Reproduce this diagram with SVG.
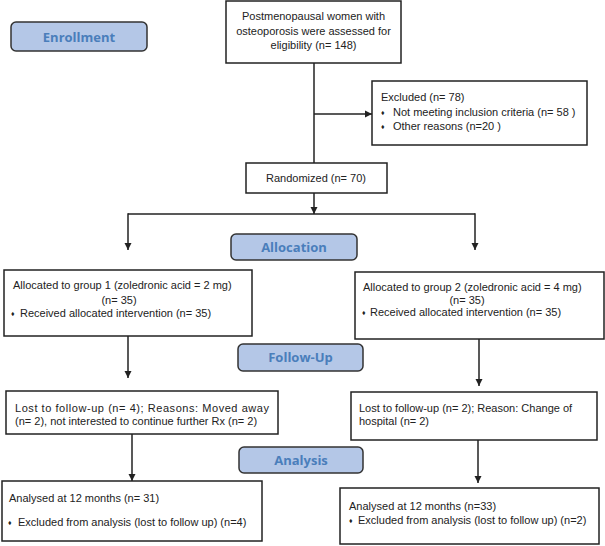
<svg xmlns="http://www.w3.org/2000/svg" width="605" height="546" viewBox="0 0 605 546">
<defs>
<marker id="arr" markerWidth="8" markerHeight="8" refX="7" refY="4" orient="auto" markerUnits="userSpaceOnUse">
<path d="M0,0.5 L7,4 L0,7.5 z" fill="#222"/>
</marker>
<style>
.box{fill:#fff;stroke:#222;stroke-width:1.5}
.hdr{fill:#b4c7e7;stroke:#333;stroke-width:1.5}
.ht{font-family:"Open Sans","Liberation Sans",sans-serif;font-weight:bold;font-size:13px;fill:#4a7ebb;text-anchor:middle}
.t{font-family:"Liberation Sans",Arial,sans-serif;font-size:11px;fill:#222}
.c{text-anchor:middle}
.b{font-size:7px}
.ln{stroke:#222;stroke-width:1.5;fill:none}
</style>
</defs>
<rect width="605" height="546" fill="#fff"/>
<g id="connectors">
<line class="ln" x1="314" y1="63" x2="314" y2="163"/>
<line class="ln" x1="314" y1="114" x2="372" y2="114" marker-end="url(#arr)"/>
<line class="ln" x1="314" y1="193" x2="314" y2="214" marker-end="url(#arr)"/>
<line class="ln" x1="128" y1="214" x2="475" y2="214"/>
<line class="ln" x1="128" y1="213.25" x2="128" y2="250" marker-end="url(#arr)"/>
<line class="ln" x1="475" y1="213.25" x2="475" y2="250" marker-end="url(#arr)"/>
<line class="ln" x1="128" y1="336" x2="128" y2="378" marker-end="url(#arr)"/>
<line class="ln" x1="479" y1="339" x2="479" y2="386" marker-end="url(#arr)"/>
<line class="ln" x1="132" y1="434" x2="132" y2="481" marker-end="url(#arr)"/>
<line class="ln" x1="478" y1="440" x2="478" y2="483" marker-end="url(#arr)"/>
</g>
<g id="enrollment">
<rect class="hdr" x="11" y="22" width="136" height="29" rx="5"/>
<text class="ht" x="79" y="41.5">Enrollment</text>
</g>
<g id="allocation">
<rect class="hdr" x="231" y="234" width="126" height="26" rx="5"/>
<text class="ht" x="294" y="251.5">Allocation</text>
</g>
<g id="followup">
<rect class="hdr" x="238" y="344" width="125" height="27" rx="5"/>
<text class="ht" x="300.5" y="362">Follow-Up</text>
</g>
<g id="analysis">
<rect class="hdr" x="239" y="447" width="124" height="26" rx="5"/>
<text class="ht" x="301" y="464.5">Analysis</text>
</g>
<g id="assessed">
<rect class="box" x="226" y="1" width="175" height="62"/>
<text class="t c" x="313.5" y="20">Postmenopausal women with</text>
<text class="t c" x="313.5" y="34.5">osteoporosis were assessed for</text>
<text class="t c" x="313.5" y="49">eligibility (n= 148)</text>
</g>
<g id="excluded">
<rect class="box" x="372" y="81" width="215" height="64"/>
<text class="t" x="381" y="101">Excluded (n= 78)</text>
<text class="t b" x="381" y="115">♦</text>
<text class="t" x="393" y="116">Not meeting inclusion criteria (n= 58 )</text>
<text class="t b" x="381" y="129">♦</text>
<text class="t" x="393" y="130">Other reasons (n=20 )</text>
</g>
<g id="randomized">
<rect class="box" x="246" y="163" width="141" height="30"/>
<text class="t c" x="316" y="182">Randomized (n= 70)</text>
</g>
<g id="group1">
<rect class="box" x="4" y="270" width="248" height="66"/>
<text class="t" x="13" y="289">Allocated to group 1 (zoledronic acid = 2 mg)</text>
<text class="t c" x="119" y="304">(n= 35)</text>
<text class="t b" x="11" y="316">♦</text>
<text class="t" x="20" y="317">Received allocated intervention (n= 35)</text>
</g>
<g id="group2">
<rect class="box" x="355" y="272" width="249" height="67"/>
<text class="t" x="363" y="291">Allocated to group 2 (zoledronic acid = 4 mg)</text>
<text class="t c" x="467" y="304">(n= 35)</text>
<text class="t b" x="362" y="315">♦</text>
<text class="t" x="370" y="316">Received allocated intervention (n= 35)</text>
</g>
<g id="lost1">
<rect class="box" x="6" y="391" width="272" height="43"/>
<text class="t" x="15" y="412" textLength="254" lengthAdjust="spacing">Lost to follow-up (n= 4); Reasons: Moved away</text>
<text class="t" x="15" y="425">(n= 2), not interested to continue further Rx (n= 2)</text>
</g>
<g id="lost2">
<rect class="box" x="351" y="392" width="246" height="48"/>
<text class="t" x="359" y="412">Lost to follow-up (n= 2); Reason: Change of</text>
<text class="t" x="359" y="425">hospital (n= 2)</text>
</g>
<g id="analysed1">
<rect class="box" x="2" y="481" width="260" height="60"/>
<text class="t" x="9" y="502">Analysed at 12 months (n= 31)</text>
<text class="t b" x="8" y="525">♦</text>
<text class="t" x="18" y="526">Excluded from analysis (lost to follow up) (n=4)</text>
</g>
<g id="analysed2">
<rect class="box" x="340" y="488" width="259" height="56"/>
<text class="t" x="349" y="510">Analysed at 12 months (n=33)</text>
<text class="t b" x="349" y="523">♦</text>
<text class="t" x="358" y="524">Excluded from analysis (lost to follow up) (n=2)</text>
</g>
</svg>
